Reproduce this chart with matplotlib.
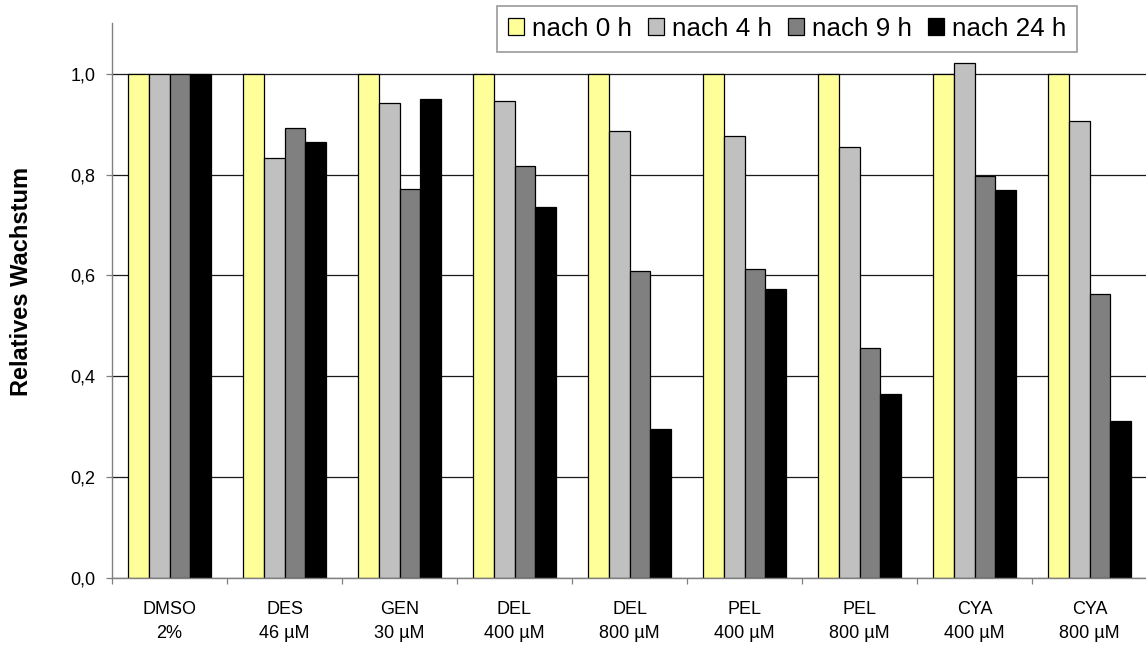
import matplotlib
matplotlib.use("Agg")
import matplotlib.pyplot as plt
import numpy as np
from matplotlib.ticker import FixedLocator, FuncFormatter

plt.rcParams['font.family'] = ['Liberation Sans', 'DejaVu Sans']

# Treatments (substance, concentration)
substances = ["DMSO", "DES", "GEN", "DEL", "DEL", "PEL", "PEL", "CYA", "CYA"]
concentrations = ["2%", "46 µM", "30 µM", "400 µM", "800 µM",
                  "400 µM", "800 µM", "400 µM", "800 µM"]

# Relative growth after each incubation time
after_0h = [1.0, 1.0, 1.0, 1.0, 1.0, 1.0, 1.0, 1.0, 1.0]
after_4h = [1.0, 0.833, 0.941, 0.945, 0.887, 0.876, 0.855, 1.022, 0.907]
after_9h = [1.0, 0.893, 0.771, 0.817, 0.608, 0.612, 0.455, 0.798, 0.562]
after_24h = [1.0, 0.864, 0.949, 0.735, 0.296, 0.573, 0.364, 0.770, 0.311]

series_names = ["nach 0 h", "nach 4 h", "nach 9 h", "nach 24 h"]
series_colors = ["#FFFF99", "#C0C0C0", "#808080", "#000000"]
series_values = [after_0h, after_4h, after_9h, after_24h]

W, H = 1146, 645
fig = plt.figure(figsize=(W / 100, H / 100), dpi=100)
ax = fig.add_axes([112 / W, (H - 577.7) / H, 1035 / W, 554.4 / H])

x = np.arange(len(substances))
bw = 0.181
handles = []
for i, (vals, col, name) in enumerate(zip(series_values, series_colors, series_names)):
    b = ax.bar(x + (i - 1.5) * bw, vals, width=bw, color=col,
               edgecolor="#000000", linewidth=0.9, label=name, zorder=3)
    handles.append(b)

ax.set_xlim(-0.5, len(substances) - 0.5)
ax.set_ylim(0, 1.1)

# y axis
ax.yaxis.set_major_locator(FixedLocator([0, 0.2, 0.4, 0.6, 0.8, 1.0]))
ax.yaxis.set_major_formatter(FuncFormatter(lambda v, p: f"{v:.1f}".replace(".", ",")))
ax.grid(axis="y", color="#1a1a1a", linewidth=0.9, zorder=0)
ax.tick_params(axis="y", direction="out", length=4, width=0.9, color="#808080",
               labelsize=13, pad=8, labelcolor="#000000")

# x axis: labels centred on groups, tick marks between groups
ax.set_xticks(x)
ax.set_xticklabels([f"{s}\n{c}" for s, c in zip(substances, concentrations)],
                   linespacing=1.55)
ax.tick_params(axis="x", which="major", length=0, labelsize=13, pad=17)
ax.set_xticks(np.arange(-0.5, len(substances), 1.0), minor=True)
ax.tick_params(axis="x", which="minor", direction="out", length=4, width=0.9,
               color="#808080")

for side in ("top", "right"):
    ax.spines[side].set_visible(False)
for side in ("left", "bottom"):
    ax.spines[side].set_color("#808080")
    ax.spines[side].set_linewidth(1.0)
ax.spines["bottom"].set_zorder(4)

fig.text(22 / W, 1 - 281 / H, "Relatives Wachstum", rotation=90,
         ha="center", va="center", fontsize=17, fontweight="bold")

leg = fig.legend(handles=handles, labels=series_names, ncol=4,
                 loc="upper left", bbox_to_anchor=(497 / W, 1 - 5.7 / H),
                 fontsize=18.7, frameon=True, fancybox=False,
                 handlelength=0.62, handleheight=0.6, handletextpad=0.3,
                 columnspacing=0.62, borderpad=0.42, borderaxespad=0)
leg.get_frame().set_edgecolor("#808080")
leg.get_frame().set_linewidth(1.2)

fig.savefig("out.png", dpi=100)
